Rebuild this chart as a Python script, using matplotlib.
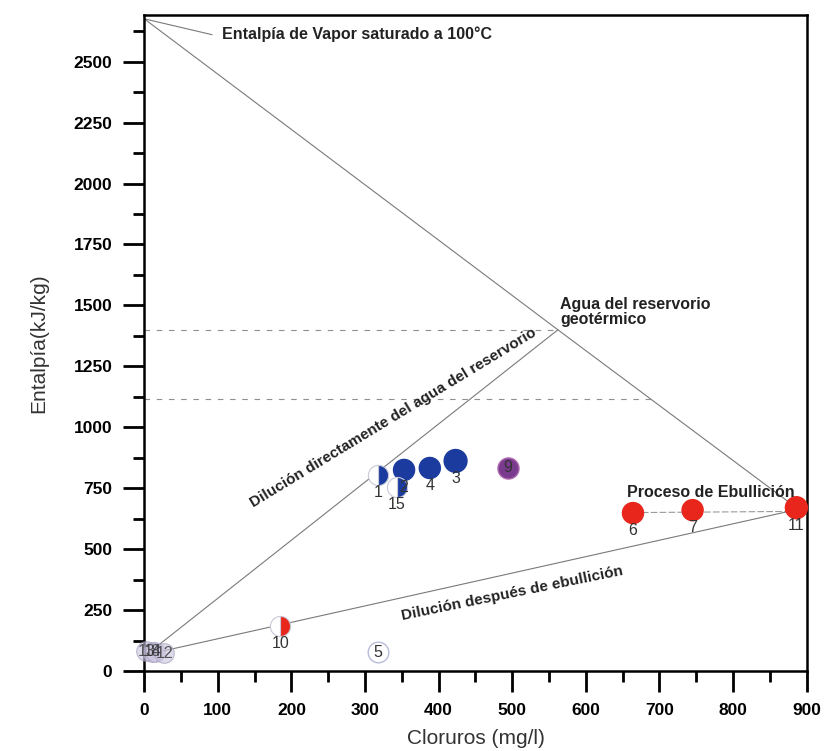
import numpy as np
import matplotlib.pyplot as plt

plt.rcParams['font.family'] = ['Liberation Sans', 'DejaVu Sans']

# ==============================
# DATOS
# ==============================
# puntos llenos: (id, cloruros mg/l, entalpia kJ/kg)
blue_ids = ["2", "4", "3"]
blue_cl = [353, 388, 423]
blue_h = [825, 833, 862]

red_ids = ["6", "7", "11"]
red_cl = [664, 745, 886]
red_h = [648, 660, 670]

# puntos medio llenos (mitad derecha)
half_ids = ["1", "15", "10"]
half_cl = [318, 343, 185]
half_h = [805, 755, 185]
half_col = ["#1b3c9e", "#1b3c9e", "#e8261c"]

# punto 9 (morado) y 5 (vacío)
p9 = (494, 833)
p5 = (318, 78)

# grupo cerca del origen
orig_ids = ["13", "14", "8", "12"]
orig_cl = [3, 11, 14, 27]
orig_h = [82, 80, 80, 72]

# rectas del modelo
vapor_line_cl = [0, 562, 886]          # vapor saturado -> reservorio -> 11
vapor_line_h = [2676, 1400, 670]
dil_direct_cl = [0, 562]
dil_direct_h = [60, 1400]
dil_boil_cl = [0, 886]
dil_boil_h = [65, 662]
boil_cl = [664, 886]
boil_h = [650, 655]
dash_levels = [1400, 1117]
dash_end = [555, 688]
vap_note_cl = [0, 92]
vap_note_h = [2676, 2611]

# ==============================
# FIGURA
# ==============================
fig = plt.figure(figsize=(8.24, 7.51), dpi=100)
ax = fig.add_axes([0.175, 0.1065, 0.804, 0.873])
ax.set_xlim(0, 900)
ax.set_ylim(0, 2690)

grey = "#7a7a7a"
ax.plot(vapor_line_cl, vapor_line_h, color=grey, lw=0.8, zorder=1)
ax.plot(dil_direct_cl, dil_direct_h, color=grey, lw=0.8, zorder=1)
ax.plot(dil_boil_cl, dil_boil_h, color=grey, lw=0.8, zorder=1)
ax.plot(boil_cl, boil_h, color="#9a9a9a", lw=0.8, ls=(0, (6, 2)), zorder=1)
ax.plot(vap_note_cl, vap_note_h, color=grey, lw=0.8, zorder=1)
for lev, xe in zip(dash_levels, dash_end):
    ax.plot([0, xe], [lev, lev], color="#8f8f8f", lw=0.8, ls=(0, (5, 6)), zorder=1)

# puntos
ax.scatter(orig_cl, orig_h, s=200, facecolor="#c9c3dc", edgecolor="#9c96b8",
           alpha=0.6, lw=0.8, zorder=3, clip_on=False)
ax.scatter(blue_cl, blue_h, s=[230, 230, 270], color="#1b3c9e", zorder=3)
ax.scatter(red_cl, red_h, s=[230, 230, 250], color="#e8261c", zorder=3, clip_on=False)
for x, y, c in zip(half_cl, half_h, half_col):
    ax.plot(x, y, marker="o", ms=14.5, fillstyle="right", markerfacecolor=c,
            markerfacecoloralt="white", markeredgecolor="#c8c8d8", mew=0.8, zorder=3)
ax.scatter([p9[0]], [p9[1]], s=230, color="#7a3a8e", edgecolor="#b06ab0", lw=1, zorder=3)
ax.scatter([p5[0]], [p5[1]], s=220, facecolor="white", edgecolor="#b8bcd8", lw=1, zorder=3)

# etiquetas de puntos
lbl = dict(fontsize=11.5, color="#333333", ha="center", va="top")
for i, x, y in zip(blue_ids + red_ids, blue_cl + red_cl, blue_h + red_h):
    ax.annotate(i, (x, y), xytext=(0, -10), textcoords="offset pixels", **lbl)
for i, x, y in zip(half_ids, half_cl, half_h):
    ax.annotate(i, (x, y), xytext=(0, -10), textcoords="offset pixels", **lbl)
ax.text(p9[0], p9[1], "9", fontsize=11.5, color="#333333", ha="center", va="center", zorder=4)
ax.text(p5[0], p5[1], "5", fontsize=11.5, color="#333333", ha="center", va="center", zorder=4)
for i, x, y in zip(orig_ids, orig_cl, orig_h):
    ax.text(x, y, i, fontsize=11.5, color="#333333", ha="center", va="center",
            alpha=0.8, zorder=4)


def screen_angle(xs, ys):
    # angulo en pantalla de una recta dada en datos
    p = ax.transData.transform(np.column_stack([xs, ys]))
    return np.degrees(np.arctan2(p[1, 1] - p[0, 1], p[1, 0] - p[0, 0]))


# textos del diagrama
bold = dict(fontweight="bold", color="#222222")
ax.text(106, 2611, "Entalpía de Vapor saturado a 100°C", ha="left", va="center",
        fontsize=11.5, **bold)
ax.text(565, 1410, "Agua del reservorio\ngeotérmico", ha="left", va="bottom",
        linespacing=1.0, fontsize=11.5, **bold)
ax.text(884, 700, "Proceso de Ebullición", ha="right", va="bottom",
        fontsize=11.5, **bold)

ang1 = screen_angle(dil_direct_cl, dil_direct_h) - 7
ax.text(338, 1040, "Dilución directamente del agua del reservorio",
        ha="center", va="center", rotation=ang1, rotation_mode="anchor",
        fontsize=11, **bold)

ang2 = screen_angle(dil_boil_cl, dil_boil_h) - 1
ax.text(500, 318, "Dilución después de ebullición",
        ha="center", va="center", rotation=ang2, rotation_mode="anchor",
        fontsize=11, **bold)

# ejes
ax.set_xticks(np.arange(0, 901, 100))
ax.set_xticks(np.arange(50, 900, 100), minor=True)
ax.set_yticks(np.arange(0, 2501, 250))
ax.set_yticks(np.arange(125, 2690, 250), minor=True)
ax.tick_params(which="major", direction="out", length=15, width=2, labelsize=12.5, pad=8)
ax.tick_params(which="minor", direction="out", length=8, width=2)
for t in ax.get_xticklabels() + ax.get_yticklabels():
    t.set_fontweight("bold")
for s in ax.spines.values():
    s.set_linewidth(1.8)

ax.set_xlabel("Cloruros (mg/l)", fontsize=15, color="#333333", labelpad=8)
ax.set_ylabel("Entalpía(kJ/kg)", fontsize=15, color="#333333", labelpad=18)

plt.savefig("out.png", dpi=100)
